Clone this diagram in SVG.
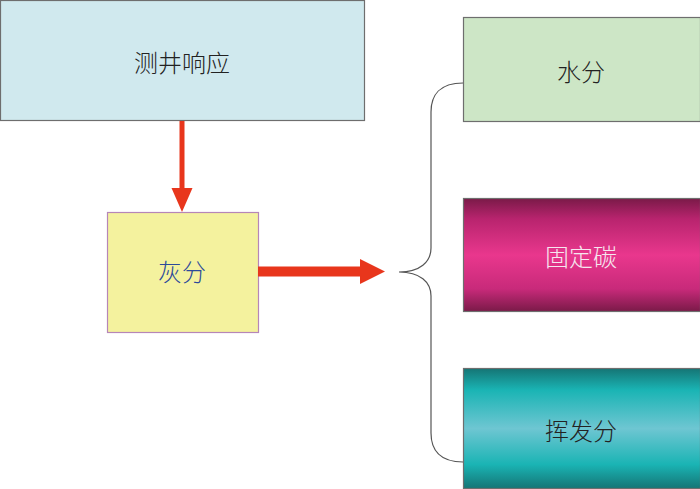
<svg xmlns="http://www.w3.org/2000/svg" width="700" height="489" viewBox="0 0 700 489">
<defs>
<linearGradient id="gMag" x1="0" y1="0" x2="0" y2="1">
<stop offset="0" stop-color="#7a1a48"/>
<stop offset="0.18" stop-color="#b8246e"/>
<stop offset="0.5" stop-color="#e9378d"/>
<stop offset="0.8" stop-color="#c82a7a"/>
<stop offset="1" stop-color="#7a1a48"/>
</linearGradient>
<linearGradient id="gTeal" x1="0" y1="0" x2="0" y2="1">
<stop offset="0" stop-color="#157575"/>
<stop offset="0.18" stop-color="#1ab4b4"/>
<stop offset="0.5" stop-color="#6ec6d2"/>
<stop offset="0.8" stop-color="#1ab4b4"/>
<stop offset="1" stop-color="#157575"/>
</linearGradient>
</defs>
<style>
.box{stroke:#6e6e6e;stroke-width:1.2}
.lbl{font-family:"Noto Sans CJK SC","Noto Sans",sans-serif;font-size:24px;font-weight:300;text-anchor:middle;dominant-baseline:central}
.arrow{fill:#e8361c}
</style>
<g id="node-logging">
<rect class="box" x="0.5" y="0.5" width="364" height="120" fill="#d0e9ee" stroke="#444"/>
<text class="lbl" x="182" y="61" fill="#222">测井响应</text>
</g>
<g id="node-ash">
<rect x="107.5" y="212.5" width="151" height="120" fill="#f4f29e" stroke="#b686b8" stroke-width="1.2"/>
<text class="lbl" x="182" y="270" fill="#2c4a9a">灰分</text>
</g>
<g id="node-water">
<rect class="box" x="463.5" y="17.5" width="237" height="104" fill="#cde6c6"/>
<text class="lbl" x="581" y="70" fill="#222">水分</text>
</g>
<g id="node-carbon">
<rect class="box" x="463.5" y="198.5" width="237" height="113" fill="url(#gMag)"/>
<text class="lbl" x="581" y="255" fill="#f6e6ef">固定碳</text>
</g>
<g id="node-volatile">
<rect class="box" x="463.5" y="368.5" width="237" height="120" fill="url(#gTeal)"/>
<text class="lbl" x="581" y="429" fill="#222">挥发分</text>
</g>
<g id="connectors">
<rect class="arrow" x="179.5" y="121" width="5" height="68"/>
<polygon class="arrow" points="171.5,188 192.5,188 182,212"/>
<rect class="arrow" x="258" y="266.5" width="104" height="10"/>
<polygon class="arrow" points="360,259 360,284 385,271.5"/>
<path d="M463,83 C440,83 431,95 431,112 L431,248 C431,262 420,272 399,272 C420,272 431,282 431,296 L431,433 C431,450 440,462 463,462" fill="none" stroke="#555" stroke-width="1.2"/>
</g>
</svg>
